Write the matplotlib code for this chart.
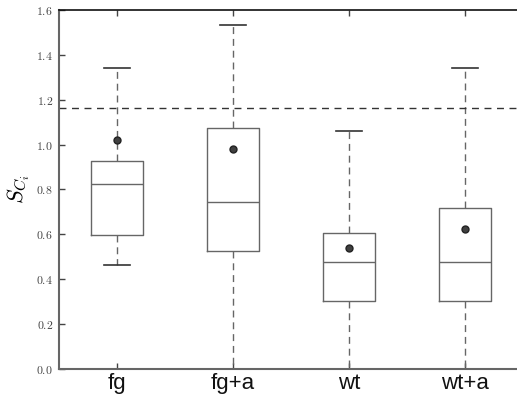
import matplotlib
matplotlib.use("Agg")
import matplotlib.pyplot as plt
from matplotlib.ticker import FuncFormatter

plt.rcParams['mathtext.fontset'] = 'cm'

# Summary statistics of each group
groups = ["fg", "fg+a", "wt", "wt+a"]
whisker_low = [0.463, 0.0, 0.0, 0.0]
q1 = [0.597, 0.527, 0.303, 0.303]
medians = [0.824, 0.744, 0.478, 0.478]
q3 = [0.925, 1.075, 0.607, 0.719]
whisker_high = [1.341, 1.533, 1.062, 1.341]
means = [1.02, 0.982, 0.538, 0.622]
threshold = 1.162

y_ticks = [0.0, 0.2, 0.4, 0.6, 0.8, 1.0, 1.2, 1.4, 1.6]

stats = []
for name, lo, a, m, b, hi, mu in zip(groups, whisker_low, q1, medians, q3,
                                     whisker_high, means):
    stats.append(dict(label=name, whislo=lo, q1=a, med=m, q3=b, whishi=hi,
                      mean=mu, fliers=[]))

fig = plt.figure(figsize=(5.17, 3.98), dpi=100)
ax = fig.add_axes([0.1133, 0.0729, 0.8985, 0.9020])

line_col = "#666666"
ax.bxp(stats, positions=range(1, len(groups) + 1), widths=0.45,
       showmeans=True, showfliers=False,
       boxprops=dict(color=line_col, linewidth=1.0),
       medianprops=dict(color=line_col, linewidth=1.0),
       whiskerprops=dict(color=line_col, linewidth=1.0, linestyle=(0, (5, 3.5))),
       capprops=dict(color="#333333", linewidth=1.2),
       meanprops=dict(marker="o", markerfacecolor="#404040",
                      markeredgecolor="#222222", markersize=5))

ax.axhline(threshold, color="#333333", linewidth=1.0, linestyle=(0, (5, 4)))

ax.set_xlim(0.5, len(groups) + 0.5)
ax.set_ylim(0.0, 1.6)
ax.set_yticks(y_ticks)
ax.yaxis.set_major_formatter(FuncFormatter(lambda v, p: r"$%.1f$" % v))
ax.set_xticks(range(1, len(groups) + 1))
ax.set_xticklabels(groups, fontsize=16, family="Liberation Sans")

ax.tick_params(axis="both", direction="in", length=4, width=1.0,
               color="#444444", top=True, right=True)
ax.tick_params(axis="y", labelsize=8.5, labelcolor="#444444", pad=4)
ax.tick_params(axis="x", pad=3, labelcolor="#111111")

for side in ("left", "bottom"):
    ax.spines[side].set_color("#666666")
    ax.spines[side].set_linewidth(1.5)
ax.spines["top"].set_color("#111111")
ax.spines["top"].set_linewidth(1.2)

ax.set_ylabel(r"$S_{C_i}$", fontsize=16, labelpad=3)

fig.savefig("out.png", dpi=100)
